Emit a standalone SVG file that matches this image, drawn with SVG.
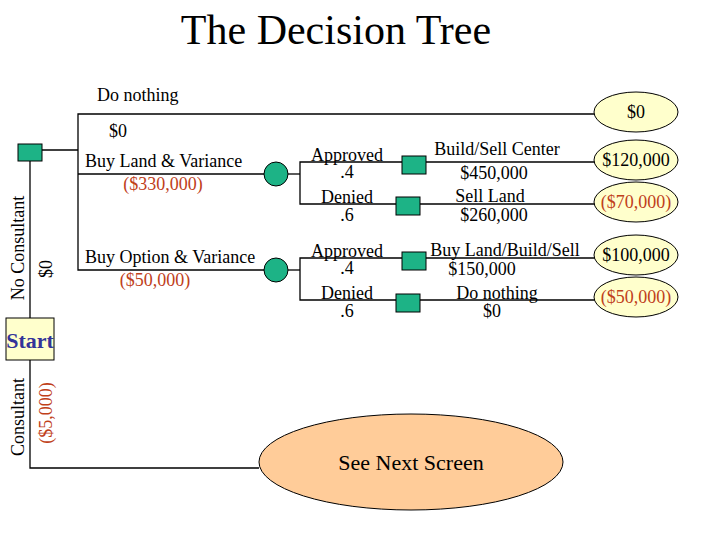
<svg xmlns="http://www.w3.org/2000/svg" width="720" height="540" viewBox="0 0 720 540">
<style>
text{font-family:"Liberation Serif","Times New Roman",serif;font-size:18px;fill:#000}
.r{fill:#c0401a}
.c{text-anchor:middle}
.ln{stroke:#000;stroke-width:1.3;fill:none}
.sq{fill:#1db386;stroke:#000;stroke-width:1}
.ov{fill:#ffffcc;stroke:#000;stroke-width:1}
</style>
<rect width="720" height="540" fill="#fff"/>
<text x="336" y="44" class="c" style="font-size:42px">The Decision Tree</text>
<g id="connectors" class="ln">
<polyline points="42,150 78,150"/>
<polyline points="30,161 30,318"/>
<polyline points="594,114 78,114 78,270 264,270"/>
<line x1="78" y1="174" x2="264" y2="174"/>
<polyline points="288,174 300,174"/>
<polyline points="288,270 300,270"/>
<polyline points="402,162 300,162 300,204 396,204"/>
<line x1="426" y1="162" x2="597" y2="162"/>
<line x1="420" y1="204" x2="600" y2="204"/>
<polyline points="402,258 300,258 300,300 396,300"/>
<line x1="426" y1="258" x2="597" y2="258"/>
<line x1="420" y1="300" x2="600" y2="300"/>
<polyline points="30,360 30,468 259,468"/>
</g>
<g id="start"><rect x="6" y="318" width="48" height="42" fill="#ffffcc" stroke="#000"/><text x="30" y="348" class="c" style="font-weight:bold;font-size:22px;fill:#333399">Start</text></g>
<g id="d1"><rect class="sq" x="18" y="144" width="24" height="17"/></g>
<g id="c1"><circle class="sq" cx="276" cy="174" r="12"/></g>
<g id="c2"><circle class="sq" cx="276" cy="270" r="12"/></g>
<g id="d2"><rect class="sq" x="402" y="156" width="24" height="18"/></g>
<g id="d3"><rect class="sq" x="396" y="197" width="24" height="18"/></g>
<g id="d4"><rect class="sq" x="402" y="252" width="24" height="18"/></g>
<g id="d5"><rect class="sq" x="396" y="294" width="24" height="18"/></g>
<g id="o0"><ellipse class="ov" cx="636" cy="112" rx="42" ry="20"/><text x="636" y="118" class="c">$0</text></g>
<g id="o1"><ellipse class="ov" cx="636" cy="160" rx="42" ry="20"/><text x="636" y="166" class="c">$120,000</text></g>
<g id="o2"><ellipse class="ov" cx="636" cy="202" rx="42" ry="20"/><text x="636" y="208" class="c r">($70,000)</text></g>
<g id="o3"><ellipse class="ov" cx="636" cy="255" rx="42" ry="20"/><text x="636" y="261" class="c">$100,000</text></g>
<g id="o4"><ellipse class="ov" cx="636" cy="297" rx="42" ry="20"/><text x="636" y="303" class="c r">($50,000)</text></g>
<g id="next"><ellipse cx="411" cy="462" rx="152" ry="48" fill="#ffcc99" stroke="#000"/><text x="411" y="470" class="c" style="font-size:22px">See Next Screen</text></g>
<g id="labels">
<text x="97" y="101">Do nothing</text>
<text x="109" y="137">$0</text>
<text x="85" y="167">Buy Land &amp; Variance</text>
<text x="163" y="190" class="c r">($330,000)</text>
<text x="85" y="263">Buy Option &amp; Variance</text>
<text x="155" y="286" class="c r">($50,000)</text>
<text x="347" y="161" class="c">Approved</text><text x="347" y="178" class="c">.4</text>
<text x="347" y="203" class="c">Denied</text><text x="347" y="221" class="c">.6</text>
<text x="347" y="257" class="c">Approved</text><text x="347" y="274" class="c">.4</text>
<text x="347" y="299" class="c">Denied</text><text x="347" y="317" class="c">.6</text>
<text x="497" y="155" class="c">Build/Sell Center</text><text x="494" y="179" class="c">$450,000</text>
<text x="490" y="202" class="c">Sell Land</text><text x="494" y="221" class="c">$260,000</text>
<text x="505" y="256" class="c">Buy Land/Build/Sell</text><text x="482" y="275" class="c">$150,000</text>
<text x="497" y="299" class="c">Do nothing</text><text x="492" y="317" class="c">$0</text>
<text transform="translate(24,248) rotate(-90)" class="c">No Consultant</text>
<text transform="translate(52,269) rotate(-90)" class="c">$0</text>
<text transform="translate(24,417) rotate(-90)" class="c">Consultant</text>
<text transform="translate(52,413) rotate(-90)" class="c r">($5,000)</text>
</g>
</svg>
